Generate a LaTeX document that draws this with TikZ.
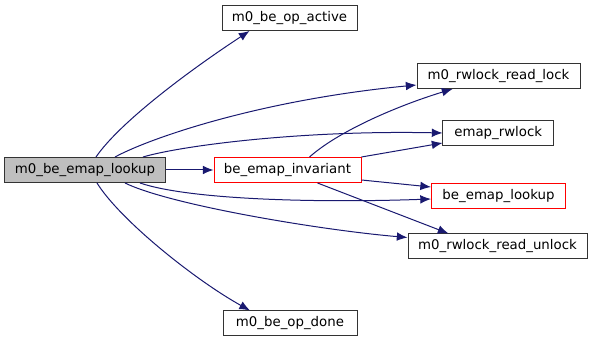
\documentclass[tikz,border=0pt]{standalone}
\usepackage{fontspec}
\setmainfont{DejaVu Sans}
\usetikzlibrary{arrows.meta,calc}
\tikzset{>={Latex[length=8pt,width=6.5pt]}}
\definecolor{callblue}{HTML}{191970}
\definecolor{boxgray}{HTML}{BFBFBF}

\begin{document}
\begin{tikzpicture}[x=0.75pt,y=-0.75pt,
    fn/.style={draw=black!80,line width=0.75pt,inner sep=0pt,
      minimum height=18.75pt,font=\fontsize{10}{12}\selectfont},
    call/.style={->,callblue,line width=0.75pt}]
  \useasboundingbox (0,0) rectangle (593,341);
  % caller and the function it calls first
  \node[fn,fill=boxgray,minimum width=120.75pt] (lookup) at (85,170) {m0\_be\_emap\_lookup};
  \node[fn,draw=red,minimum width=110.25pt] (inv) at (287.5,170) {be\_emap\_invariant};
  % callees
  \node[fn,minimum width=101.25pt] (active) at (289.5,18) {m0\_be\_op\_active};
  \node[fn,minimum width=100.5pt] (done) at (290,323.5) {m0\_be\_op\_done};
  \node[fn,minimum width=122.25pt] (rdlock) at (498.5,76) {m0\_rwlock\_read\_lock};
  \node[fn,minimum width=82.9pt] (rwlock) at (498.25,133) {emap\_rwlock};
  \node[fn,draw=red,minimum width=100.5pt] (belookup) at (498.5,196) {be\_emap\_lookup};
  \node[fn,minimum width=134.25pt] (rdunlock) at (497.5,246.5) {m0\_rwlock\_read\_unlock};
  % calls from m0_be_emap_lookup
  \draw[call] ($(lookup.north)+(11,0)$) .. controls (120,122) and (190,70) .. ($(active.south)+(-40,0)$);
  \draw[call] ($(lookup.north)+(30,0)$) .. controls (150,138) and (260,100) .. ($(rdlock.west)+(0,9)$);
  \draw[call] ($(lookup.north)+(58,0)$) .. controls (180,146) and (300,130) .. (rwlock.west);
  \draw[call] (lookup.east) -- (inv.west);
  \draw[call] ($(lookup.south)+(55,0)$) .. controls (190,200) and (320,203) .. ($(belookup.west)+(0,3)$);
  \draw[call] ($(lookup.south)+(40,0)$) .. controls (170,205) and (320,230) .. ($(rdunlock.west)+(0,-9)$);
  \draw[call] ($(lookup.south)+(12,0)$) .. controls (120,220) and (195,280) .. ($(done.north)+(-40,0)$);
  % calls from be_emap_invariant
  \draw[call] ($(inv.north)+(22,0)$) .. controls (340,130) and (400,105) .. ($(rdlock.south)+(-46,0)$);
  \draw[call] (inv.north east) -- ($(rwlock.west)+(0,10)$);
  \draw[call] ($(inv.east)+(0,10)$) -- ($(belookup.west)+(0,-9)$);
  \draw[call] ($(inv.south)+(30,0)$) -- ($(rdunlock.north)+(-49,0)$);
\end{tikzpicture}
\end{document}
